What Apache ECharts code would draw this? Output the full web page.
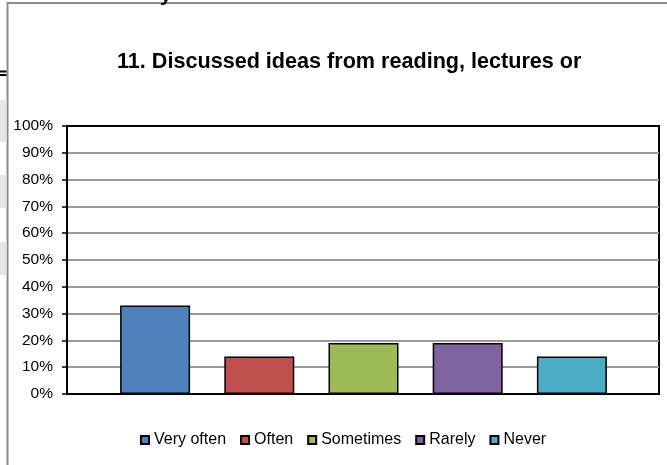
<!DOCTYPE html>
<html>
<head>
<meta charset="utf-8">
<script src="https://cdn.jsdelivr.net/npm/echarts@6/dist/echarts.min.js"></script>
<style>
  html, body { margin: 0; padding: 0; background: #fff; }
  #chart { width: 667px; height: 465px; }
</style>
</head>
<body>
<div id="chart"></div>
<script>
// answer categories and share of responses (%)
const categories = ['Very often', 'Often', 'Sometimes', 'Rarely', 'Never']
const percents = [33, 14, 19, 19, 14]
const yTicks = [0, 10, 20, 30, 40, 50, 60, 70, 80, 90, 100]
const titleText = '11. Discussed ideas from reading, lectures or'

const palette = ['#4F81BD', '#C0504D', '#9BBB59', '#8064A2', '#4BACC6']
const font = 'Liberation Sans, Arial, sans-serif'

const chart = echarts.init(document.getElementById('chart'))

// one series per answer so the legend lists each of them
const series = categories.map((name, i) => ({
  name: name,
  type: 'bar',
  xAxisIndex: 1,
  yAxisIndex: 1,
  stack: 'all',
  barWidth: 70,
  data: percents.map((v, j) => (j === i ? v : '-')),
  itemStyle: { color: palette[i], borderColor: '#000', borderWidth: 1.5 }
}))

chart.setOption({
  animation: false,
  backgroundColor: '#fff',
  title: {
    text: titleText,
    left: 117,
    top: 51,
    padding: 0,
    textStyle: { fontFamily: font, fontSize: 21.6, fontWeight: 'bold', color: '#000' }
  },
  legend: {
    data: categories,
    left: 135,
    top: 427,
    itemWidth: 8,
    itemHeight: 8,
    itemGap: 14,
    icon: 'rect',
    textStyle: { fontFamily: font, fontSize: 16, color: '#000' }
  },
  grid: [
    // plot frame with gridlines
    { left: 67, right: 8, top: 126, bottom: 71, show: true, borderColor: '#000', borderWidth: 2 },
    // bars sit in a narrower band inside the frame
    { left: 103, right: 43, top: 126, bottom: 71 }
  ],
  xAxis: [
    {
      gridIndex: 0,
      type: 'category',
      data: categories,
      axisLine: { lineStyle: { color: '#000', width: 2 } },
      axisTick: { show: false },
      axisLabel: { show: false }
    },
    {
      gridIndex: 1,
      type: 'category',
      data: categories,
      show: false
    }
  ],
  yAxis: [
    {
      gridIndex: 0,
      type: 'value',
      min: yTicks[0],
      max: yTicks[yTicks.length - 1],
      interval: 10,
      axisLine: { show: true, lineStyle: { color: '#000', width: 2 } },
      axisTick: { show: true, length: 5, lineStyle: { color: '#000', width: 1.5 } },
      axisLabel: {
        margin: 14,
        formatter: '{value}%',
        fontFamily: font,
        fontSize: 15.5,
        color: '#000'
      },
      splitLine: { showMinLine: false, showMaxLine: false, lineStyle: { color: '#9a9a9a', width: 2 } }
    },
    {
      gridIndex: 1,
      type: 'value',
      min: 0,
      max: 100,
      show: false,
      splitLine: { show: false }
    }
  ],
  series: series,
  graphic: [
    // outer chart frame (cropped)
    { type: 'rect', shape: { x: 7.5, y: 3, width: 700, height: 500 }, style: { fill: null, stroke: '#8c8c8c', lineWidth: 2 }, silent: true },
    // page fragments outside the chart box
    { type: 'text', x: 160, y: 6, style: { text: 'y', fontFamily: font, fontSize: 21, fontWeight: 'bold', fill: '#000', verticalAlign: 'bottom' }, silent: true },
    { type: 'rect', shape: { x: 0, y: 70.5, width: 6.5, height: 2 }, style: { fill: '#000' }, silent: true },
    { type: 'rect', shape: { x: 0, y: 74, width: 6.5, height: 2 }, style: { fill: '#000' }, silent: true },
    { type: 'rect', shape: { x: 0, y: 100, width: 6.5, height: 42 }, style: { fill: '#e6e6e6' }, silent: true },
    { type: 'rect', shape: { x: 0, y: 175, width: 6.5, height: 33 }, style: { fill: '#e6e6e6' }, silent: true },
    { type: 'rect', shape: { x: 0, y: 242, width: 6.5, height: 33 }, style: { fill: '#e6e6e6' }, silent: true }
  ]
})
</script>
</body>
</html>
